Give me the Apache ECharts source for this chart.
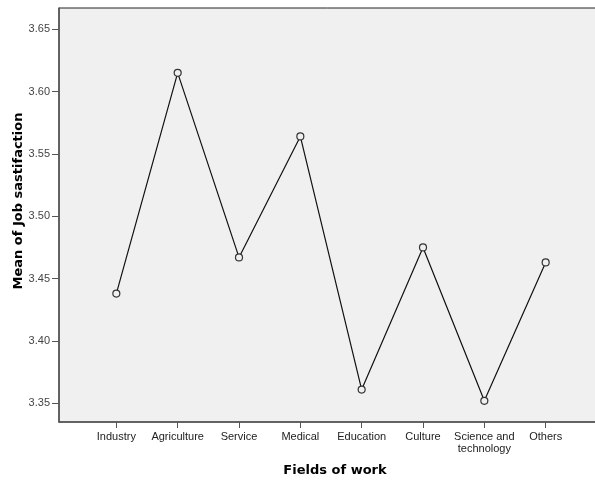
<!DOCTYPE html>
<html>
<head>
<meta charset="utf-8">
<script src="https://cdn.jsdelivr.net/npm/echarts@6/dist/echarts.min.js"></script>
<style>
  html, body { margin: 0; padding: 0; background: #fff; }
  #chart { width: 595px; height: 481px; }
</style>
</head>
<body>
<div id="chart"></div>
<script>
const categories = ['Industry', 'Agriculture', 'Service', 'Medical', 'Education', 'Culture', 'Science and\ntechnology', 'Others'];
const meanSatisfaction = [3.438, 3.615, 3.467, 3.564, 3.361, 3.475, 3.352, 3.463];
const yTicks = [3.35, 3.40, 3.45, 3.50, 3.55, 3.60, 3.65];

const chart = echarts.init(document.getElementById('chart'));
const catIdx = categories.map((c, i) => i);

const option = {
  animation: false,
  backgroundColor: '#ffffff',
  textStyle: { fontFamily: 'Liberation Sans' },
  grid: {
    left: 59,
    top: 8,
    width: 544,
    height: 414,
    outerBoundsMode: 'none',
    show: true,
    backgroundColor: '#f0f0f0',
    borderColor: '#222',
    borderWidth: 1
  },
  xAxis: {
    type: 'value',
    min: -0.935,
    max: 7.935,
    name: 'Fields of work',
    nameLocation: 'middle',
    nameGap: 42,
    nameTextStyle: { fontSize: 13, fontWeight: 'bold', color: '#000', fontFamily: 'DejaVu Sans', padding: [0, 0, 0, 8] },
    axisLine: { show: true, onZero: false, lineStyle: { color: '#555', width: 1.5 } },
    axisTick: { show: true, length: 6, customValues: catIdx, lineStyle: { color: '#555' } },
    axisLabel: {
      customValues: catIdx,
      formatter: v => categories[Math.round(v)],
      color: '#222',
      fontSize: 11,
      lineHeight: 12,
      margin: 9
    },
    splitLine: { show: false }
  },
  yAxis: {
    type: 'value',
    min: 3.335,
    max: 3.667,
    name: 'Mean of Job sastifaction',
    nameLocation: 'middle',
    nameGap: 34,
    nameMoveOverlap: false,
    nameTextStyle: { fontSize: 13, fontWeight: 'bold', color: '#000', fontFamily: 'DejaVu Sans', padding: [0, 0, 0, 28] },
    axisLine: { show: true, onZero: false, lineStyle: { color: '#555', width: 1.5 } },
    axisTick: { show: true, length: 7, customValues: yTicks, lineStyle: { color: '#555' } },
    axisLabel: {
      customValues: yTicks,
      formatter: v => v.toFixed(2),
      color: '#444',
      fontSize: 11,
      margin: 9
    },
    splitLine: { show: false }
  },
  series: [{
    type: 'line',
    data: meanSatisfaction.map((v, i) => [i, v]),
    symbol: 'circle',
    symbolSize: 7,
    itemStyle: { color: '#f0f0f0', borderColor: '#333', borderWidth: 1.2 },
    lineStyle: { color: '#111', width: 1.2 }
  }]
};

chart.setOption(option);
</script>
</body>
</html>
